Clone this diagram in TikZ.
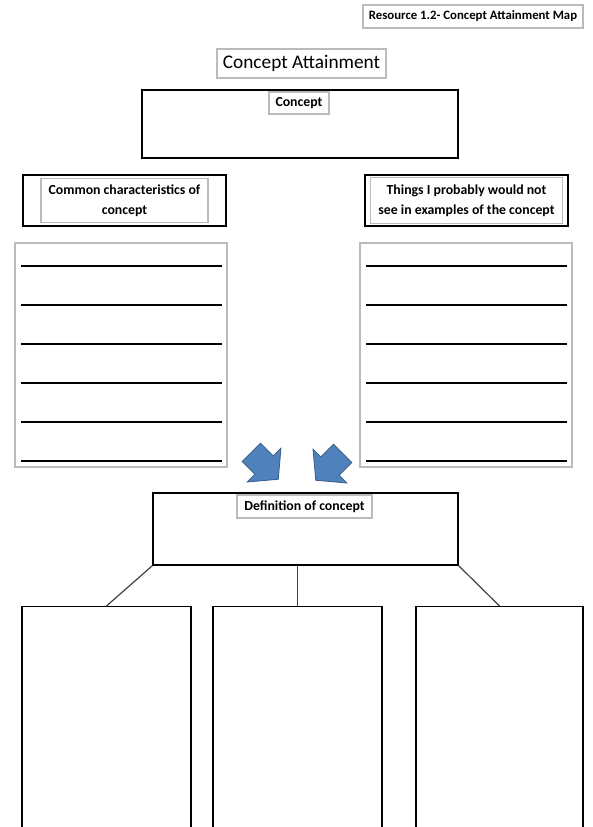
\documentclass[tikz,border=0pt]{standalone}
\usepackage{fontspec}
\setmainfont{Carlito}
\usepackage{tikz}
\usetikzlibrary{arrows.meta,positioning,calc,shapes.arrows}
\definecolor{bluearrow}{HTML}{4F81BD}
\definecolor{bluedark}{HTML}{385D8A}
\definecolor{lightframe}{HTML}{BBBBBB}
\tikzset{
  blackbox/.style={draw=black, line width=1.4pt, inner sep=0pt},
  greybox/.style={draw=lightframe, line width=1.4pt, inner sep=0pt},
  tag/.style={draw=lightframe, line width=1.2pt, fill=white, font=\bfseries\fontsize{13.8}{20}\selectfont, inner sep=0pt, align=center},
  blockarrow/.style={single arrow, draw=bluedark, fill=bluearrow, line width=0.8pt,
    minimum height=38pt, inner sep=12.5pt, single arrow head extend=11pt,
    single arrow tip angle=100, single arrow head indent=0pt},
  branch/.style={draw=black!75, line width=1.2pt},
}

\begin{document}
\begin{tikzpicture}[x=1pt, y=-1pt]
\useasboundingbox (0,0) rectangle (592,827);
% heading
\node[tag, font=\bfseries\fontsize{12.8}{15}\selectfont, minimum width=220pt, minimum height=23pt]
   (resource) at (473,16.5) {Resource 1.2- Concept Attainment Map};
\node[tag, font=\fontsize{19.3}{22}\selectfont, minimum width=169pt, minimum height=29pt]
   (title) at (301.5,63.5) {Concept Attainment};
% concept box
\node[blackbox, minimum width=316pt, minimum height=68pt] (concept) at (300,124) {};
\node[tag, minimum width=60pt, minimum height=22pt] (conceptlbl) at (299,103) {Concept};
% column headers
\node[blackbox, minimum width=203pt, minimum height=51pt] (lefthead) at (124.5,200.5) {};
\node[tag, minimum width=167pt, minimum height=44pt] (leftlbl) at (lefthead)
   {Common characteristics of\\concept};
\node[blackbox, minimum width=203pt, minimum height=51pt] (righthead) at (466.5,200.5) {};
\node[tag, minimum width=192pt, minimum height=46pt] (rightlbl) at (righthead)
   {Things I probably would not\\see in examples of the concept};
% lined boxes
\node[greybox, minimum width=212pt, minimum height=224pt] (leftlines) at (121,355) {};
\node[greybox, minimum width=212pt, minimum height=224pt] (rightlines) at (466,355) {};
\foreach \i in {0,...,5}{
  \draw[line width=1.4pt] (21,266+39*\i) -- (222,266+39*\i);
  \draw[line width=1.4pt] (366,266+39*\i) -- (567,266+39*\i);
}
% arrows
\node[blockarrow, rotate=-45] (arrowl) at (261,462) {};
\node[blockarrow, rotate=-135] (arrowr) at (333,463) {};
% definition
\node[blackbox, minimum width=305pt, minimum height=72pt] (defn) at (305.5,529) {};
\node[tag, minimum width=135pt, minimum height=23pt] (defnlbl) at (304.5,506.5) {Definition of concept};
% bottom boxes
\node[blackbox, anchor=north, minimum width=169pt, minimum height=222pt] (boxa) at (106.5,606) {};
\node[blackbox, anchor=north, minimum width=169pt, minimum height=222pt] (boxb) at (297.5,606) {};
\node[blackbox, anchor=north, minimum width=167pt, minimum height=222pt] (boxc) at (499.5,606) {};
\draw[branch] (defn.south west) -- (boxa.north);
\draw[branch] (defn.south -| boxb.north) -- (boxb.north);
\draw[branch] (defn.south east) -- (boxc.north);
\end{tikzpicture}
\end{document}
